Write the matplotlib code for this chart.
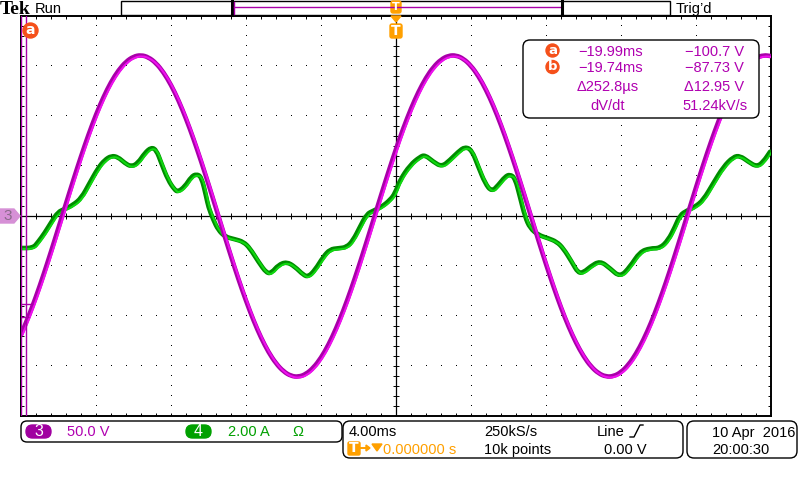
import numpy as np
import matplotlib
matplotlib.use("Agg")
import matplotlib.pyplot as plt
from matplotlib import transforms
from matplotlib.path import Path
from matplotlib.patches import FancyBboxPatch, Rectangle, Circle, Polygon, PathPatch

# channel 3 (voltage, 50 V/div), read every 0.4 ms across the 40 ms screen
ch3_t_ms = np.arange(-20.0, 20.01, 0.4)
ch3_volts = [
    -118.5, -100.7, -80.7, -58.9, -35.7, -11.7, 12.5, 36.5, 59.6, 81.4,
    101.4, 119.0, 134.0, 145.8, 154.4, 159.5, 161.0, 158.8, 153.0, 143.7,
    131.2, 115.7, 97.5, 77.2, 55.1, 31.8, 7.7, -16.5, -40.4, -63.4,
    -84.8, -104.5, -121.7, -136.2, -147.5, -155.5, -160.0, -160.9, -158.1, -151.7,
    -141.9, -128.8, -112.8, -94.3, -73.7, -51.3, -27.8, -3.7, 20.6, 44.3,
    67.1, 88.3, 107.5, 124.3, 138.3, 149.1, 156.5, 160.4, 160.7, 157.3,
    150.3, 139.9, 126.3, 109.9, 91.0, 70.0, 47.4, 23.8, -0.4, -24.6,
    -48.2, -70.7, -91.7, -110.5, -126.8, -140.3, -150.6, -157.4, -160.7, -160.3,
    -156.3, -148.8, -137.9, -123.8, -107.0, -87.6, -66.4, -43.6, -19.8, 4.4,
    28.6, 52.0, 74.3, 94.9, 113.4, 129.3, 142.2, 152.0, 158.2, 160.9,
    159.9,
]

# channel 4 (current, 2 A/div)
ch4_t_ms = [
    -20.00, -19.36, -19.09, -18.74, -18.38, -18.03, -17.67, -17.23, -16.78, -16.34,
    -15.89, -15.54, -15.18, -14.83, -14.47, -14.12, -13.76, -13.40, -13.05, -12.78,
    -12.52, -12.16, -11.80, -11.63, -11.27, -10.92, -10.65, -10.38, -10.12, -10.01,
    -9.74, -9.48, -9.12, -8.59, -8.14, -7.79, -7.34, -6.90, -6.63, -6.28,
    -5.83, -5.39, -4.94, -4.68, -4.32, -3.88, -3.52, -3.08, -2.63, -2.28,
    -1.92, -1.56, -1.21, -0.76, -0.32, -0.05, 0.21, 0.75, 1.28, 1.55,
    1.99, 2.44, 2.88, 3.32, 3.68, 4.04, 4.39, 4.75, 5.10, 5.46,
    5.81, 6.08, 6.35, 6.61, 6.88, 7.15, 7.59, 8.12, 8.57, 8.92,
    9.37, 9.72, 10.03, 10.35, 10.88, 11.41, 11.95, 12.48, 13.01, 13.55,
    14.08, 14.52, 14.88, 15.15, 15.50, 15.95, 16.39, 16.92, 17.46, 17.99,
    18.35, 18.79, 19.24, 19.59, 19.95,
]
ch4_amps = [
    -1.28, -1.28, -1.04, -0.68, -0.24, 0.16, 0.28, 0.44, 0.72, 1.32,
    1.92, 2.24, 2.41, 2.36, 2.12, 1.97, 2.12, 2.52, 2.75, 2.64,
    2.12, 1.44, 1.04, 0.97, 1.17, 1.57, 1.68, 1.57, 0.77, 0.37,
    -0.16, -0.56, -0.83, -0.93, -1.03, -1.29, -1.83, -2.29, -2.27, -1.96,
    -1.83, -2.03, -2.36, -2.43, -2.16, -1.63, -1.33, -1.29, -1.25, -0.96,
    -0.43, 0.08, 0.21, 0.37, 0.64, 0.91, 1.44, 2.04, 2.37, 2.44,
    2.17, 1.97, 2.24, 2.57, 2.77, 2.64, 1.97, 1.31, 0.97, 1.24,
    1.57, 1.67, 1.51, 0.77, -0.03, -0.49, -0.76, -0.89, -1.03, -1.29,
    -1.83, -2.29, -2.24, -2.03, -1.79, -2.09, -2.45, -2.03, -1.43, -1.29,
    -1.29, -0.96, -0.43, 0.04, 0.21, 0.37, 0.64, 1.31, 1.97, 2.37,
    2.41, 2.17, 1.97, 2.17, 2.57,
]

# cursor readout
cursor_t = [-19.99, -19.74]
cursor_v = [-100.7, -87.73]

MAG = '#a800a8'
MAG_HI = '#ee10ee'
MAG_TXT = '#b000b0'
GRN = '#008c00'
GRN_HI = '#10d810'
GRN_TXT = '#00a000'
ORANGE = '#ffa000'
BADGE = '#f5501a'
UI = ['Liberation Sans', 'DejaVu Sans']
FS = 10.5


def trace_path(xs, ys):
    # rounded polyline through the read points (quadratic joins at each point)
    pts = list(zip(xs, ys))
    mid = lambda a, b: ((a[0] + b[0]) / 2, (a[1] + b[1]) / 2)
    verts = [pts[0], mid(pts[0], pts[1])]
    codes = [Path.MOVETO, Path.LINETO]
    for i in range(1, len(pts) - 1):
        verts += [pts[i], mid(pts[i], pts[i + 1])]
        codes += [Path.CURVE3, Path.CURVE3]
    verts.append(pts[-1])
    codes.append(Path.LINETO)
    return Path(verts, codes)


fig = plt.figure(figsize=(8, 4.8), dpi=100)
rect = [21 / 800, 64 / 480, 750 / 800, 400 / 480]

# graticule axes (volts)
ax = fig.add_axes(rect, zorder=1)
ax.set_xlim(-20, 20)
ax.set_ylim(-200, 200)
ax.set_xticks([])
ax.set_yticks([])
for s in ax.spines.values():
    s.set_linewidth(1.4)
    s.set_color('black')

gx, gy = [], []
for t in [-16, -12, -8, -4, 4, 8, 12, 16]:
    for v in np.arange(-190, 200, 10):
        gx.append(t)
        gy.append(v)
for v in [-150, -100, -50, 50, 100, 150]:
    for t in np.arange(-19.2, 20, 0.8):
        gx.append(t)
        gy.append(v)
ax.plot(gx, gy, ',', color='black')

ax.axhline(0, color='black', lw=0.9)
ax.axvline(0, color='black', lw=0.9)
tt = np.arange(-19.2, 20, 0.8)
vv = np.arange(-190, 200, 10)
ax.vlines(tt, -3, 3, color='black', lw=0.7)
ax.hlines(vv, -0.16, 0.16, color='black', lw=0.7)
ax.vlines(tt, 197, 200, color='black', lw=0.7)
ax.vlines(tt, -200, -197, color='black', lw=0.7)
ax.hlines(vv, -20, -19.85, color='black', lw=0.7)
ax.hlines(vv, 19.85, 20, color='black', lw=0.7)

# current trace
ax_i = fig.add_axes(rect, zorder=2, label='amps')
ax_i.set_xlim(-20, 20)
ax_i.set_ylim(-8, 8)
ax_i.axis('off')
p_i = trace_path(ch4_t_ms, ch4_amps)
ax_i.add_patch(PathPatch(p_i, fill=False, ec=GRN, lw=3.3, joinstyle='round',
                         capstyle='round', transform=ax_i.transData))
hi_i = transforms.offset_copy(ax_i.transData, fig=fig, x=1.2, y=-1.0, units='dots')
ax_i.add_patch(PathPatch(p_i, fill=False, ec=GRN_HI, lw=1.5, joinstyle='round',
                         transform=hi_i))

# voltage trace + cursors
ax_v = fig.add_axes(rect, zorder=3, label='volts')
ax_v.set_xlim(-20, 20)
ax_v.set_ylim(-200, 200)
ax_v.axis('off')
p_v = trace_path(ch3_t_ms, ch3_volts)
ax_v.add_patch(PathPatch(p_v, fill=False, ec=MAG, lw=3.3, joinstyle='round',
                         capstyle='round', transform=ax_v.transData))
hi_v = transforms.offset_copy(ax_v.transData, fig=fig, x=1.2, y=-1.0, units='dots')
ax_v.add_patch(PathPatch(p_v, fill=False, ec=MAG_HI, lw=1.5, joinstyle='round',
                         transform=hi_v))
for t in cursor_t:
    ax_v.axvline(t, color=MAG, lw=1.0)
ax_v.hlines(cursor_v[1], -20, -19.36, color=MAG, lw=1.0)
ax_v.hlines(cursor_v[0], -20, -19.6, color=MAG, lw=1.0)

# screen furniture in pixel coordinates
ov = fig.add_axes([0, 0, 1, 1], zorder=10, label='overlay')
ov.set_xlim(0, 800)
ov.set_ylim(480, 0)
ov.axis('off')


def rbox(x0, y0, x1, y1, r, fc='white', ec='black', lw=1.0):
    ov.add_patch(FancyBboxPatch((x0, y0), x1 - x0, y1 - y0,
                                boxstyle=f"round,pad=0,rounding_size={r}",
                                fc=fc, ec=ec, lw=lw))


def txt(x, y, s, color='black', size=FS, ha='left', va='baseline', **kw):
    ov.text(x, y, s, color=color, fontsize=size, ha=ha, va=va, family=UI, **kw)


# top bar
ov.text(0, 13.5, 'Tek', fontsize=14, fontweight='bold', family='Liberation Serif',
        ha='left', va='baseline', color='black')
txt(35, 12.7, 'Run')
ov.add_patch(Rectangle((121, 0.5), 549, 14.5, fc='white', ec='black', lw=1.0))
ov.plot([232, 232], [0.5, 15], color='black', lw=2.2)
ov.plot([233.8, 233.8], [1.5, 14], color=MAG, lw=1.0)
ov.plot([233.8, 561], [7, 7], color=MAG, lw=1.0)
ov.plot([562, 562], [0.5, 15], color='black', lw=2.2)
txt(676, 12.7, 'Trig\u2019d')

# trigger markers
rbox(391, 1, 401, 13, 2, fc=ORANGE, ec=ORANGE)
ov.text(396, 7.3, 'T', color='white', fontsize=8, fontweight='bold',
        ha='center', va='center', family='DejaVu Sans')
ov.add_patch(Polygon([(391, 16), (401, 16), (396, 22)], closed=True, fc=ORANGE, ec=ORANGE))
rbox(390, 24, 402, 38, 2, fc=ORANGE, ec=ORANGE)
ov.text(396, 31.3, 'T', color='white', fontsize=10, fontweight='bold',
        ha='center', va='center', family='DejaVu Sans')

# cursor a badge
ov.add_patch(Circle((30.5, 30.5), 7.5, fc=BADGE, ec=BADGE))
ov.text(30.5, 30, 'a', color='white', fontsize=10, fontweight='bold',
        ha='center', va='center', family='DejaVu Sans')

# channel 3 ground marker
ov.add_patch(Polygon([(0, 209), (14, 209), (20, 216), (14, 223), (0, 223)],
                     closed=True, fc='#d690d6', ec='#d690d6'))
ov.text(7.5, 216.5, '3', color='#8a6a8a', fontsize=11, ha='center', va='center',
        family=UI)

# measurement readout
rbox(523, 40, 759, 118, 7)
for yc, lab in [(50.5, 'a'), (67, 'b')]:
    ov.add_patch(Circle((552.5, yc), 6.5, fc=BADGE, ec=BADGE))
    ov.text(552.5, yc - 0.3, lab, color='white', fontsize=9.5, fontweight='bold',
            ha='center', va='center', family='DejaVu Sans')
txt(578, 56, '\u221219.99ms', MAG_TXT)
txt(578, 72.5, '\u221219.74ms', MAG_TXT)
txt(577, 91, '\u0394252.8\u00b5s', MAG_TXT)
txt(590, 109.5, 'dV/dt', MAG_TXT)
txt(744, 56, '\u2212100.7 V', MAG_TXT, ha='right')
txt(744, 72.5, '\u221287.73 V', MAG_TXT, ha='right')
txt(744, 91, '\u039412.95 V', MAG_TXT, ha='right')
txt(748, 109.5, '51.24kV/s', MAG_TXT, ha='right')

# bottom status bar
rbox(21, 421, 342, 442, 6)
rbox(26, 425, 51, 438, 6.5, fc='#a000a0', ec='#a000a0')
ov.text(38.5, 431.5, '3', color='white', fontsize=11.5, ha='center', va='center', family=UI)
txt(67, 436.5, '50.0 V', MAG_TXT)
rbox(186, 425, 211, 438, 6.5, fc=GRN_TXT, ec=GRN_TXT)
ov.text(198.5, 431.5, '4', color='white', fontsize=11.5, ha='center', va='center', family=UI)
txt(228, 436.5, '2.00 A', GRN_TXT)
txt(292, 436.5, '\u03a9', GRN_TXT)

rbox(343, 421, 683, 458, 7)
txt(349, 436.5, '4.00ms')
rbox(348, 442, 360, 455, 1.5, fc=ORANGE, ec=ORANGE)
ov.text(354, 448.5, 'T', color='white', fontsize=10, fontweight='bold',
        ha='center', va='center', family='DejaVu Sans')
ov.plot([361, 369], [448, 448], color=ORANGE, lw=1.4)
ov.add_patch(Polygon([(366, 445), (370, 448), (366, 451)], closed=True, fc=ORANGE, ec=ORANGE))
ov.add_patch(Polygon([(372, 444), (382, 444), (377, 451)], closed=True, fc=ORANGE, ec=ORANGE))
txt(383, 454, '0.000000 s', ORANGE)
txt(484, 436.5, '250kS/s')
txt(484, 454, '10k points')
txt(597, 436.5, 'Line')
ov.plot([630, 634, 640, 643], [437, 437, 425, 425], color='black', lw=1.0)
txt(604, 454, '0.00 V')

rbox(687, 421, 797, 458, 7)
txt(712, 436.5, '10 Apr  2016')
txt(712, 454, '20:00:30')

fig.savefig('out.png', dpi=100, facecolor='white')
